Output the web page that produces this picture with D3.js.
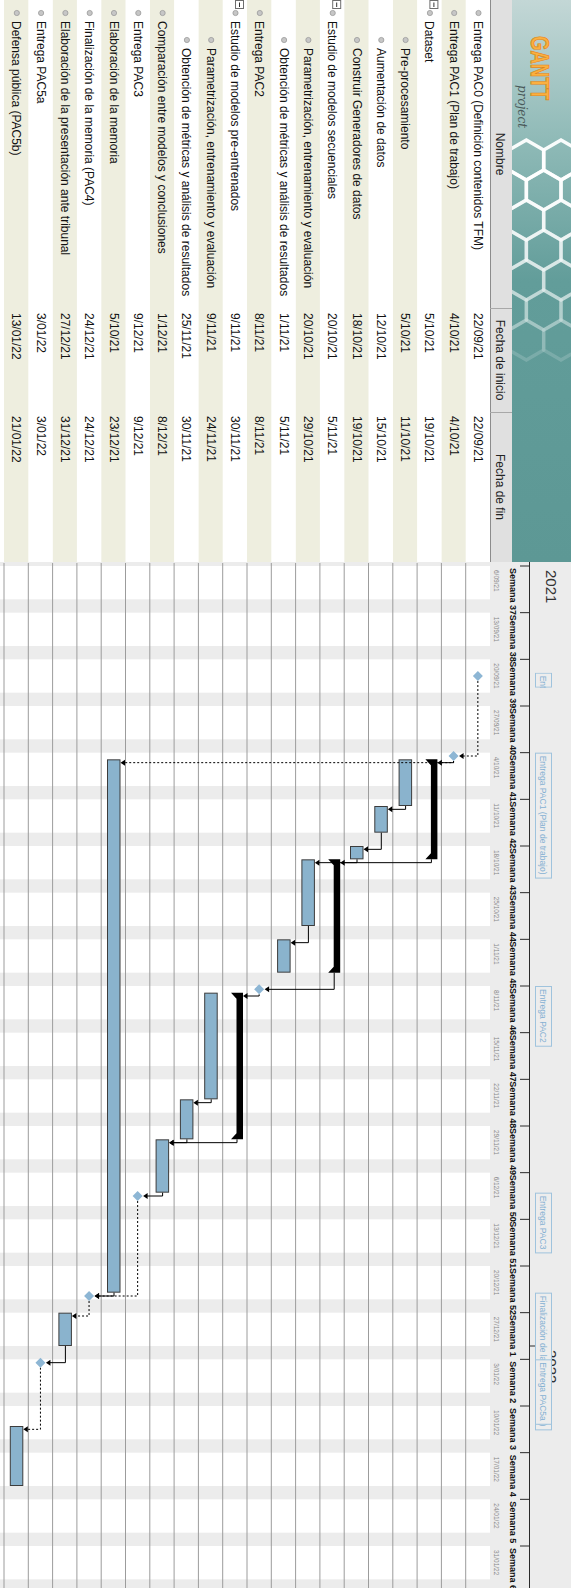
<!DOCTYPE html>
<html>
<head>
<meta charset="utf-8">
<script src="https://cdn.jsdelivr.net/npm/d3@7"></script>
<style>
  html, body { margin: 0; padding: 0; background: #ffffff; }
  svg { display: block; }
</style>
</head>
<body>
<svg id="chart" width="571" height="1588"></svg>
<script>
// ---------------------------------------------------------------
// Project plan (GanttProject export, drawn on its side)
// ---------------------------------------------------------------
const taskNames = [
  "Entrega PAC0 (Definición contenidos TFM)",
  "Entrega PAC1 (Plan de trabajo)",
  "Dataset",
  "Pre-procesamiento",
  "Aumentación de datos",
  "Construir Generadores de datos",
  "Estudio de modelos secuenciales",
  "Parametrización, entrenamiento y evaluación",
  "Obtención de métricas y análisis de resultados",
  "Entrega PAC2",
  "Estudio de modelos pre-entrenados",
  "Parametrización, entrenamiento y evaluación",
  "Obtención de métricas y análisis de resultados",
  "Comparación entre modelos y conclusiones",
  "Entrega PAC3",
  "Elaboración de la memoria",
  "Finalización de la memoria (PAC4)",
  "Elaboración de la presentación ante tribunal",
  "Entrega PAC5a",
  "Defensa pública (PAC5b)"
];
const taskLevels = [0, 0, 0, 1, 1, 1, 0, 1, 1, 0, 0, 1, 1, 0, 0, 0, 0, 0, 0, 0];
const taskTypes = [
  "milestone", "milestone", "summary", "task", "task", "task", "summary", "task", "task",
  "milestone", "summary", "task", "task", "task", "milestone", "task", "milestone",
  "task", "milestone", "task"
];
const taskStarts = [
  "22/09/21", "4/10/21", "5/10/21", "5/10/21", "12/10/21", "18/10/21", "20/10/21",
  "20/10/21", "1/11/21", "8/11/21", "9/11/21", "9/11/21", "25/11/21", "1/12/21",
  "9/12/21", "5/10/21", "24/12/21", "27/12/21", "3/01/22", "13/01/22"
];
const taskEnds = [
  "22/09/21", "4/10/21", "19/10/21", "11/10/21", "15/10/21", "19/10/21", "5/11/21",
  "29/10/21", "5/11/21", "8/11/21", "30/11/21", "24/11/21", "30/11/21", "8/12/21",
  "9/12/21", "23/12/21", "24/12/21", "31/12/21", "3/01/22", "21/01/22"
];

// Dependencies: predecessor index, successor index, line style
const depFrom  = [0, 1, 1, 3, 4, 2, 5, 7, 6, 9, 11, 10, 12, 13, 14, 15, 16, 17, 18];
const depTo    = [1, 2, 15, 4, 5, 6, 7, 8, 9, 10, 12, 13, 13, 14, 16, 16, 17, 18, 19];
const depStyle = ["dash", "solid", "dash", "solid", "solid", "solid", "solid", "solid",
                  "solid", "solid", "solid", "solid", "solid", "solid", "dash", "solid",
                  "dash", "solid", "dash"];

// Timeline header
const weekStarts = [
  "6/09/21", "13/09/21", "20/09/21", "27/09/21", "4/10/21", "11/10/21", "18/10/21",
  "25/10/21", "1/11/21", "8/11/21", "15/11/21", "22/11/21", "29/11/21", "6/12/21",
  "13/12/21", "20/12/21", "27/12/21", "3/01/22", "10/01/22", "17/01/22", "24/01/22",
  "31/01/22"
];
const weekLabels = [
  "Semana 37", "Semana 38", "Semana 39", "Semana 40", "Semana 41", "Semana 42",
  "Semana 43", "Semana 44", "Semana 45", "Semana 46", "Semana 47", "Semana 48",
  "Semana 49", "Semana 50", "Semana 51", "Semana 52", "Semana 1", "Semana 2",
  "Semana 3", "Semana 4", "Semana 5", "Semana 6"
];
const yearLabels = ["2021", "2022"];
const yearStarts = ["6/09/21", "1/01/22"];
const columnHeaders = ["Nombre", "Fecha de inicio", "Fecha de fin"];

// ---------------------------------------------------------------
// Layout (landscape frame, rotated a quarter turn clockwise)
// ---------------------------------------------------------------
const PAGE_W = 571, PAGE_H = 1588;
const FW = PAGE_H, FH = PAGE_W;          // frame width / height before rotation
const TABLE_W = 562;
const LOGO_H = 59, HEAD_H = 81;
const ROW_H = 24.3;
const DAY = 20 / 3;
const COL_X = [0, 308, 412, TABLE_W];
const FONT = "'Liberation Sans', Arial, sans-serif";

const parse = s => {
  const [d, m, y] = s.split("/").map(Number);
  return new Date(Date.UTC(2000 + y, m - 1, d));
};
const addDays = (dt, n) => d3.utcDay.offset(dt, n);

const t0 = parse("6/09/21");
const tEnd = addDays(t0, Math.ceil((FW - 566) / DAY));
const xs = d3.scaleUtc().domain([t0, tEnd]).range([566, 566 + d3.utcDay.count(t0, tEnd) * DAY]);
const row = d3.scaleBand().domain(d3.range(taskNames.length))
  .range([HEAD_H, HEAD_H + ROW_H * taskNames.length]);

const svg = d3.select("#chart");
const g = svg.append("g").attr("transform", `translate(${PAGE_W},0) rotate(90)`);

// ---------- logo strip ----------
const defs = svg.append("defs");
const lg = defs.append("linearGradient").attr("id", "logoGrad")
  .attr("x1", 0).attr("x2", 1).attr("y1", 0).attr("y2", 0);
lg.append("stop").attr("offset", "0%").attr("stop-color", "#c3d7d6");
lg.append("stop").attr("offset", "25%").attr("stop-color", "#8fbab7");
lg.append("stop").attr("offset", "50%").attr("stop-color", "#629d9a");
lg.append("stop").attr("offset", "100%").attr("stop-color", "#5d9895");
defs.append("clipPath").attr("id", "logoClip")
  .append("rect").attr("x", 0).attr("y", 0).attr("width", TABLE_W).attr("height", LOGO_H);

const logo = g.append("g");
logo.append("rect").attr("x", 0).attr("y", 0).attr("width", TABLE_W).attr("height", LOGO_H)
  .attr("fill", "url(#logoGrad)");
// honeycomb
const hex = logo.append("g").attr("clip-path", "url(#logoClip)");
const R = 20;
const hexPts = (cx, cy) => d3.range(6).map(k => {
  const a = Math.PI / 3 * k;
  return [cx + R * Math.cos(a), cy + R * Math.sin(a)];
});
for (let c = 0; c < 7; c++) {
  for (let r = -1; r < 3; r++) {
    const cx = 160 + c * R * 1.5;
    const cy = r * R * Math.sqrt(3) + (c % 2 ? R * Math.sqrt(3) / 2 : 0) + 10;
    hex.append("polygon").attr("points", hexPts(cx, cy).map(p => p.join(",")).join(" "))
      .attr("fill", "none").attr("stroke", "#ffffff")
      .attr("stroke-width", 3.5).attr("stroke-opacity", Math.max(0, 0.95 - c * 0.13));
  }
}
logo.append("text").attr("x", 36).attr("y", 40).attr("font-family", FONT)
  .attr("font-size", 26).attr("font-weight", "bold").attr("fill", "#fbb040")
  .attr("stroke", "#e0861a").attr("stroke-width", 0.8)
  .attr("textLength", 64).attr("lengthAdjust", "spacingAndGlyphs").text("GANTT");
logo.append("text").attr("x", 128).attr("y", 53).attr("text-anchor", "end")
  .attr("font-family", "'DejaVu Serif', serif").attr("font-style", "italic")
  .attr("font-size", 12).attr("fill", "#4a5a5a").text("project");

// ---------- table header ----------
g.append("rect").attr("x", 0).attr("y", LOGO_H).attr("width", TABLE_W)
  .attr("height", HEAD_H - LOGO_H).attr("fill", "#e0e0e0");
g.append("line").attr("x1", 0).attr("x2", TABLE_W).attr("y1", HEAD_H - 0.5).attr("y2", HEAD_H - 0.5)
  .attr("stroke", "#8c8c8c");
g.selectAll(".colsep").data(COL_X.slice(1, 3)).join("line")
  .attr("x1", d => d + 0.5).attr("x2", d => d + 0.5)
  .attr("y1", LOGO_H).attr("y2", HEAD_H).attr("stroke", "#a8a8a8");
g.selectAll(".colhead").data(columnHeaders).join("text")
  .attr("x", (d, i) => (COL_X[i] + COL_X[i + 1]) / 2).attr("y", 75)
  .attr("text-anchor", "middle").attr("font-family", FONT).attr("font-size", 12)
  .attr("fill", "#222").text(d => d);

// ---------- table rows ----------
g.selectAll(".stripe").data(taskNames).join("rect")
  .attr("x", 0).attr("y", (d, i) => row(i)).attr("width", TABLE_W).attr("height", row.bandwidth())
  .attr("fill", (d, i) => i % 2 ? "#eeeedf" : "#ffffff");

const rowsG = g.selectAll(".trow").data(taskNames).join("g")
  .attr("transform", (d, i) => `translate(0,${row(i)})`);
// expand / collapse box for summary tasks
rowsG.filter((d, i) => taskTypes[i] === "summary").each(function () {
  const s = d3.select(this);
  s.append("rect").attr("x", 0.5).attr("y", 3.5).attr("width", 8).attr("height", 8)
    .attr("fill", "#fff").attr("stroke", "#6e6e6e");
  s.append("line").attr("x1", 2.5).attr("x2", 7).attr("y1", 7.5).attr("y2", 7.5)
    .attr("stroke", "#333");
});
rowsG.append("circle")
  .attr("cx", (d, i) => taskLevels[i] ? 40 : 13).attr("cy", 11.5).attr("r", 2.6)
  .attr("fill", "#c6c6c6").attr("stroke", "#9a9a9a").attr("stroke-width", 0.8);
rowsG.append("text")
  .attr("x", (d, i) => taskLevels[i] ? 48 : 21).attr("y", 16)
  .attr("font-family", FONT).attr("font-size", 12).attr("fill", "#111").text(d => d);
rowsG.append("text").attr("x", COL_X[1] + 5).attr("y", 16)
  .attr("font-family", FONT).attr("font-size", 12).attr("fill", "#111")
  .text((d, i) => taskStarts[i]);
rowsG.append("text").attr("x", COL_X[2] + 4).attr("y", 16)
  .attr("font-family", FONT).attr("font-size", 12).attr("fill", "#111")
  .text((d, i) => taskEnds[i]);

// ---------- chart body ----------
const chartW = FW - TABLE_W;
g.append("rect").attr("x", TABLE_W).attr("y", HEAD_H).attr("width", chartW)
  .attr("height", FH - HEAD_H).attr("fill", "#ffffff");
const saturdays = d3.utcSaturday.range(addDays(t0, -7), tEnd);
g.selectAll(".weekend").data(saturdays).join("rect")
  .attr("x", d => Math.max(TABLE_W, xs(d))).attr("y", HEAD_H)
  .attr("width", d => xs(addDays(d, 2)) - Math.max(TABLE_W, xs(d)))
  .attr("height", FH - HEAD_H).attr("fill", "#ececec");
g.selectAll(".rowline").data(taskNames).join("line")
  .attr("x1", TABLE_W + 1).attr("x2", FW)
  .attr("y1", (d, i) => row(i) + ROW_H).attr("y2", (d, i) => row(i) + ROW_H)
  .attr("stroke", "#9c9c9c").attr("stroke-width", 1);

// ---------- timeline header ----------
g.append("rect").attr("x", TABLE_W).attr("y", 0).attr("width", chartW).attr("height", HEAD_H)
  .attr("fill", "#ececec");
g.append("line").attr("x1", TABLE_W).attr("x2", FW).attr("y1", 41.5).attr("y2", 41.5)
  .attr("stroke", "#2a2a2a");
const wk = weekStarts.map(parse);
g.selectAll(".wtick").data(wk).join("line")
  .attr("x1", d => xs(d)).attr("x2", d => xs(d)).attr("y1", 41.5).attr("y2", 51)
  .attr("stroke", "#2a2a2a");
g.selectAll(".wlab").data(wk).join("text")
  .attr("x", d => xs(d) + 2).attr("y", 61.5)
  .attr("font-family", FONT).attr("font-size", 9).attr("font-weight", "bold")
  .attr("fill", "#111").text((d, i) => weekLabels[i]);
g.selectAll(".dlab").data(wk).join("text")
  .attr("x", d => xs(d) + 4).attr("y", 77)
  .attr("font-family", FONT).attr("font-size", 6.5)
  .attr("fill", "#8a8a8a").text((d, i) => weekStarts[i]);
const yr = yearStarts.map(parse);
g.selectAll(".ylab").data(yr).join("text")
  .attr("x", d => xs(d) + 4).attr("y", 25)
  .attr("font-family", FONT).attr("font-size", 15).attr("fill", "#333")
  .text((d, i) => yearLabels[i]);
g.append("line").attr("x1", xs(yr[1])).attr("x2", xs(yr[1])).attr("y1", 34).attr("y2", 41.5)
  .attr("stroke", "#2a2a2a");

// milestone captions on the timeline
const msIdx = d3.range(taskNames.length).filter(i => taskTypes[i] === "milestone");
const FIRST_CAPTION_W = 15;
defs.append("clipPath").attr("id", "capClip0").append("rect")
  .attr("x", xs(parse(taskStarts[msIdx[0]]))).attr("y", 19).attr("width", FIRST_CAPTION_W).attr("height", 18);
msIdx.forEach((i, k) => {
  const x0 = xs(parse(taskStarts[i]));
  const cap = g.append("g");
  if (k === 0) cap.attr("clip-path", "url(#capClip0)");
  const box = cap.append("rect").attr("x", x0 + 0.5).attr("y", 19.5).attr("height", 16)
    .attr("fill", "#ededed").attr("stroke", "#9fc3dd");
  const t = cap.append("text").attr("x", x0 + 3).attr("y", 31)
    .attr("font-family", FONT).attr("font-size", 8.5).attr("fill", "#86b1d3").text(taskNames[i]);
  const w = t.node().getComputedTextLength();
  box.attr("width", k === 0 ? FIRST_CAPTION_W - 1 : w + 6);
});

// ---------- bars ----------
const barsG = g.append("g");
d3.range(taskNames.length).forEach(i => {
  const top = row(i);
  const s = xs(parse(taskStarts[i]));
  const e = xs(addDays(parse(taskEnds[i]), 1));
  if (taskTypes[i] === "task") {
    barsG.append("rect").attr("x", s + 0.5).attr("y", top + 5.5)
      .attr("width", e - s - 1).attr("height", 12.5)
      .attr("fill", "#8ab3cd").attr("stroke", "#3c3c3c").attr("stroke-width", 1);
  } else if (taskTypes[i] === "summary") {
    const a = top + 4, b = top + 10.5, tip = top + 16;
    barsG.append("polygon")
      .attr("points", [[s, a], [e, a], [e, tip], [e - 6, b], [s + 6, b], [s, tip]]
        .map(p => p.join(",")).join(" "))
      .attr("fill", "#000");
  }
});

// ---------- dependencies ----------
const depG = g.append("g");
const cy = i => row(i) + ROW_H / 2;
const msCx = i => xs(parse(taskStarts[i])) + DAY / 2;
const MS_R = 5;
depFrom.forEach((p, k) => {
  const s = depTo[k];
  let px, py;
  if (taskTypes[p] === "milestone") { px = msCx(p) + MS_R; py = cy(p); }
  else if (taskTypes[p] === "summary") { px = xs(addDays(parse(taskEnds[p]), 1)); py = row(p) + 10; }
  else { px = xs(addDays(parse(taskEnds[p]), 1)); py = row(p) + 11.5; }
  const cx = xs(parse(taskStarts[s])) + DAY / 2;
  let ty;
  if (taskTypes[s] === "milestone") ty = cy(s) - MS_R - 0.5;
  else if (taskTypes[s] === "summary") ty = row(s) + 4;
  else ty = row(s) + 5;
  depG.append("path")
    .attr("d", `M${px},${py}H${cx}V${ty - 4}`)
    .attr("fill", "none").attr("stroke", "#000").attr("stroke-width", 1)
    .attr("stroke-dasharray", depStyle[k] === "dash" ? "2,2" : null);
  depG.append("polygon")
    .attr("points", `${cx - 3},${ty - 4.5} ${cx + 3},${ty - 4.5} ${cx},${ty}`)
    .attr("fill", "#000");
});

// ---------- milestones ----------
msIdx.forEach(i => {
  const x = msCx(i), y = cy(i);
  g.append("polygon")
    .attr("points", `${x},${y - MS_R} ${x + MS_R},${y} ${x},${y + MS_R} ${x - MS_R},${y}`)
    .attr("fill", "#8db6d4");
});
</script>
</body>
</html>
